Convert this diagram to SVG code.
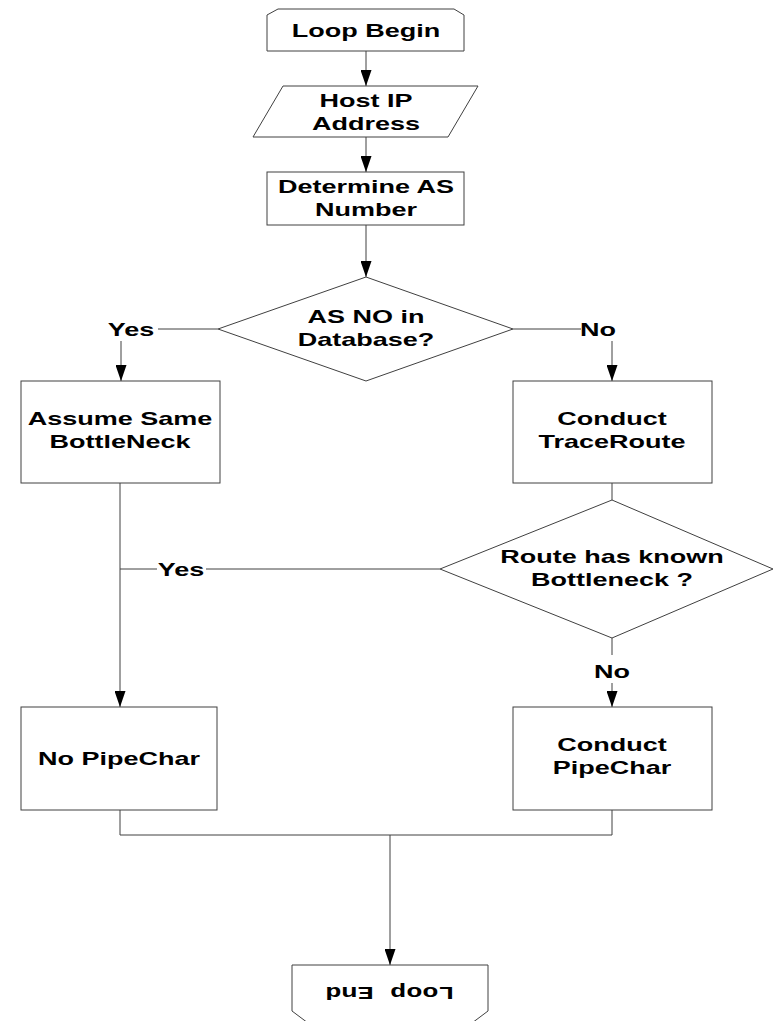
<svg xmlns="http://www.w3.org/2000/svg" width="774" height="1021" viewBox="0 0 774 1021">
  <style>
    .shape { fill: #ffffff; stroke: #404040; stroke-width: 1; }
    .wire { fill: none; stroke: #404040; stroke-width: 1; }
    .t { font-family: "Liberation Sans", Arial, sans-serif; font-weight: bold; font-size: 18px; text-anchor: middle; fill: #000000; }
    .mono { font-family: "Liberation Mono", "Courier New", monospace; font-weight: bold; font-size: 18px; text-anchor: middle; fill: #000000; }
  </style>
  <defs>
    <marker id="arrow" markerUnits="userSpaceOnUse" markerWidth="16" markerHeight="11" refX="16" refY="5.5" orient="auto">
      <path d="M0,0 L16,5.5 L0,11 Z" fill="#000000"/>
    </marker>
  </defs>
  <rect width="774" height="1021" fill="#ffffff"/>

  <!-- connectors -->
  <g id="connectors">
    <line class="wire" x1="366" y1="51" x2="366" y2="86" marker-end="url(#arrow)"/>
    <line class="wire" x1="366" y1="137" x2="366" y2="172" marker-end="url(#arrow)"/>
    <line class="wire" x1="366" y1="225" x2="366" y2="277" marker-end="url(#arrow)"/>
    <!-- AS lookup: yes branch -->
    <line class="wire" x1="218" y1="329" x2="158" y2="329"/>
    <line class="wire" x1="121" y1="341" x2="121" y2="381" marker-end="url(#arrow)"/>
    <!-- AS lookup: no branch -->
    <line class="wire" x1="513" y1="329" x2="581" y2="329"/>
    <line class="wire" x1="612" y1="341" x2="612" y2="381" marker-end="url(#arrow)"/>
    <line class="wire" x1="612" y1="483" x2="612" y2="500"/>
    <!-- bottleneck check: no branch -->
    <line class="wire" x1="612" y1="638" x2="612" y2="655"/>
    <line class="wire" x1="612" y1="683" x2="612" y2="707" marker-end="url(#arrow)"/>
    <!-- left trunk and bottleneck check yes branch -->
    <line class="wire" x1="120" y1="483" x2="120" y2="707" marker-end="url(#arrow)"/>
    <line class="wire" x1="120" y1="569" x2="157" y2="569"/>
    <line class="wire" x1="206" y1="569" x2="440" y2="569"/>
    <!-- merge into loop end -->
    <polyline class="wire" points="120,810 120,835 612,835 612,810"/>
    <line class="wire" x1="390" y1="835" x2="390" y2="965" marker-end="url(#arrow)"/>
  </g>

  <!-- branch labels -->
  <g id="labels">
    <text class="t" transform="translate(131 335.5) scale(1.5 1)">Yes</text>
    <text class="t" transform="translate(598 335.5) scale(1.5 1)">No</text>
    <text class="t" transform="translate(181 575.5) scale(1.5 1)">Yes</text>
    <text class="t" transform="translate(612 677.5) scale(1.5 1)">No</text>
  </g>

  <g id="loop-begin">
    <polygon class="shape" points="278,9 454,9 464,15 464,51 267,51 267,15"/>
    <text class="t" transform="translate(366 36.5) scale(1.5 1)">Loop Begin</text>
  </g>

  <g id="host-ip">
    <polygon class="shape" points="283,86 478,86 448,137 253,137"/>
    <text class="t" transform="translate(366 106.5) scale(1.5 1)">Host IP</text>
    <text class="t" transform="translate(366 129.5) scale(1.5 1)">Address</text>
  </g>

  <g id="determine-as">
    <rect class="shape" x="267" y="172" width="197" height="53"/>
    <text class="t" transform="translate(366 193) scale(1.5 1)">Determine AS</text>
    <text class="t" transform="translate(366 216) scale(1.5 1)">Number</text>
  </g>

  <g id="as-in-db">
    <polygon class="shape" points="366,277 513,329 366,381 218,329"/>
    <text class="t" transform="translate(366 323) scale(1.5 1)">AS NO in</text>
    <text class="t" transform="translate(366 346) scale(1.5 1)">Database?</text>
  </g>

  <g id="assume-same">
    <rect class="shape" x="21" y="381" width="199" height="102"/>
    <text class="t" transform="translate(120 425) scale(1.5 1)">Assume Same</text>
    <text class="t" transform="translate(120 448) scale(1.5 1)">BottleNeck</text>
  </g>

  <g id="traceroute">
    <rect class="shape" x="513" y="381" width="199" height="102"/>
    <text class="t" transform="translate(612 425) scale(1.5 1)">Conduct</text>
    <text class="t" transform="translate(612 448) scale(1.5 1)">TraceRoute</text>
  </g>

  <g id="known-bottleneck">
    <polygon class="shape" points="612,500 773,569 612,638 440,569"/>
    <text class="t" transform="translate(612 563) scale(1.5 1)">Route has known</text>
    <text class="t" transform="translate(612 586) scale(1.5 1)">Bottleneck ?</text>
  </g>

  <g id="no-pipechar">
    <rect class="shape" x="21" y="707" width="196" height="103"/>
    <text class="t" transform="translate(119 765) scale(1.5 1)">No PipeChar</text>
  </g>

  <g id="conduct-pipechar">
    <rect class="shape" x="513" y="707" width="199" height="103"/>
    <text class="t" transform="translate(612 751) scale(1.5 1)">Conduct</text>
    <text class="t" transform="translate(612 774) scale(1.5 1)">PipeChar</text>
  </g>

  <g id="loop-end">
    <polygon class="shape" points="292,965 488,965 488,1011 472,1023 308,1023 292,1011"/>
    <text class="mono" transform="translate(390 993) rotate(180) scale(1.5 1)" dy="6">Loop End</text>
  </g>
</svg>
